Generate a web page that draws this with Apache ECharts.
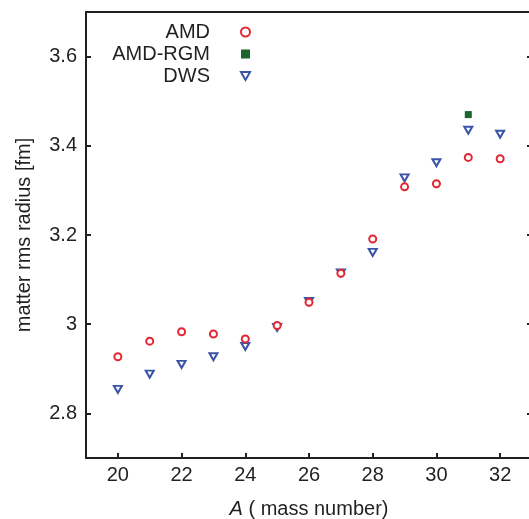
<!DOCTYPE html>
<html>
<head>
<meta charset="utf-8">
<script src="https://cdn.jsdelivr.net/npm/echarts@6/dist/echarts.min.js"></script>
<style>
  html, body { margin: 0; padding: 0; background: #fff; }
  #main { width: 529px; height: 519px; }
</style>
</head>
<body>
<div id="main"></div>
<script>
// mass numbers A
const massNumbers = [20, 21, 22, 23, 24, 25, 26, 27, 28, 29, 30, 31, 32];
// matter rms radius [fm]
const amdValues = [2.927, 2.962, 2.983, 2.978, 2.967, 2.997, 3.049, 3.114, 3.191, 3.308, 3.315, 3.374, 3.371];
const dwsValues = [2.854, 2.888, 2.910, 2.927, 2.950, 2.993, 3.051, 3.115, 3.161, 3.328, 3.362, 3.435, 3.426];
const rgmMass = [31];
const rgmValues = [3.470];

const xTicks = [20, 22, 24, 26, 28, 30, 32];
const yTicks = [2.8, 3.0, 3.2, 3.4, 3.6];

const ink = '#231f20';
const font = '"Liberation Sans", Arial, sans-serif';
// downward triangle
const downTriangle = 'path://M0,0L10,0L5,8.7Z';

function pairs(xs, ys) {
  return xs.map((x, i) => [x, ys[i]]);
}

const chart = echarts.init(document.getElementById('main'));

const lineStyle = { color: ink, width: 2 };

chart.setOption({
  animation: false,
  textStyle: { fontFamily: font },
  grid: { left: 86, right: -3, top: 12, bottom: 61, outerBoundsMode: 'none' },
  legend: {
    orient: 'vertical',
    align: 'right',
    right: 278,
    top: 22,
    padding: 0,
    itemWidth: 9,
    itemHeight: 9,
    itemGap: 2,
    data: ['AMD', 'AMD-RGM', 'DWS'],
    textStyle: { fontSize: 20, color: ink, fontFamily: font, padding: [0, 26, 0, 0] }
  },
  xAxis: [
    {
      type: 'value', min: 19, max: 33, position: 'bottom',
      axisLine: { show: true, onZero: false, lineStyle },
      axisTick: { show: true, inside: true, length: 5, customValues: xTicks, lineStyle },
      axisLabel: { customValues: xTicks, fontSize: 20, color: ink, margin: 7 },
      splitLine: { show: false },
      name: '{i|A} ( mass number)',
      nameLocation: 'middle',
      nameGap: 41,
      nameTextStyle: {
        fontSize: 20, color: ink,
        rich: { i: { fontStyle: 'italic', fontSize: 20, color: ink } }
      }
    },
    {
      type: 'value', min: 19, max: 33, position: 'top',
      axisLine: { show: true, onZero: false, lineStyle },
      axisTick: { show: false },
      axisLabel: { show: false },
      splitLine: { show: false }
    }
  ],
  yAxis: [
    {
      type: 'value', min: 2.7, max: 3.7, position: 'left',
      axisLine: { show: true, onZero: false, lineStyle },
      axisTick: { show: true, inside: true, length: 5, customValues: yTicks, lineStyle },
      axisLabel: { customValues: yTicks, fontSize: 20, color: ink, margin: 9 },
      splitLine: { show: false },
      name: 'matter rms radius [fm]',
      nameLocation: 'middle',
      nameGap: 52,
      nameTextStyle: { fontSize: 20, color: ink }
    },
    {
      type: 'value', min: 2.7, max: 3.7, position: 'right',
      axisLine: { show: true, onZero: false, lineStyle },
      axisTick: { show: true, inside: true, length: 5, customValues: yTicks, lineStyle },
      axisLabel: { show: false },
      splitLine: { show: false }
    }
  ],
  series: [
    {
      name: 'AMD', type: 'scatter',
      symbol: 'circle', symbolSize: 7,
      itemStyle: { color: '#fff', borderColor: '#e52530', borderWidth: 2, opacity: 1 },
      data: pairs(massNumbers, amdValues), z: 3
    },
    {
      name: 'AMD-RGM', type: 'scatter',
      symbol: 'rect', symbolSize: 7,
      itemStyle: { color: '#1b6531', opacity: 1 },
      data: pairs(rgmMass, rgmValues), z: 4
    },
    {
      name: 'DWS', type: 'scatter',
      symbol: downTriangle, symbolSize: [8, 7],
      itemStyle: { color: '#fff', borderColor: '#3b55a6', borderWidth: 2, opacity: 1 },
      data: pairs(massNumbers, dwsValues), z: 2
    }
  ]
});
</script>
</body>
</html>
